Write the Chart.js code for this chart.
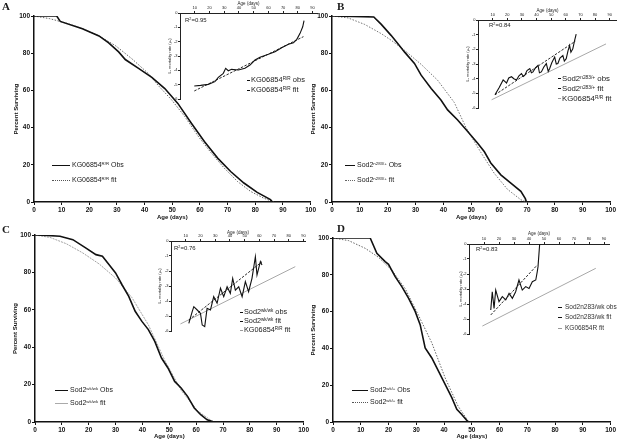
<!DOCTYPE html>
<html>
<head>
<meta charset="utf-8">
<script src="https://cdn.jsdelivr.net/npm/chart.js@4.4.1/dist/chart.umd.min.js"></script>
<style>
  html, body { margin: 0; padding: 0; background: #fff; }
  #fig { position: relative; width: 617px; height: 442px; overflow: hidden; font-family: "Liberation Sans", Arial, sans-serif; color: #1a1a1a; }
  #fig canvas { position: absolute; }
  .t { position: absolute; white-space: nowrap; line-height: 1; }
  .t sup { font-size: 0.62em; vertical-align: 0; position: relative; top: -0.5em; }
  .letter { font-family: "Liberation Serif", "DejaVu Serif", serif; font-weight: bold; font-size: 11px; }
  .sw { display: inline-block; vertical-align: middle; margin-right: 2px; height: 0; }
</style>
</head>
<body>
<div id="fig">
  <canvas id="mainA" width="317" height="222" style="left:0;top:0"></canvas>
  <canvas id="mainB" width="312" height="222" style="left:305px;top:0"></canvas>
  <canvas id="mainC" width="310" height="227" style="left:0;top:215px"></canvas>
  <canvas id="mainD" width="312" height="227" style="left:305px;top:215px"></canvas>
  <canvas id="insetA" width="160" height="102" style="left:160px;top:0"></canvas>
  <canvas id="insetB" width="159" height="104" style="left:458px;top:7px"></canvas>
  <canvas id="insetC" width="157" height="106" style="left:151px;top:228px"></canvas>
  <canvas id="insetD" width="163" height="106" style="left:449px;top:231px"></canvas>

  <div class="t letter" style="left:2px;top:1px">A</div>
  <div class="t letter" style="left:337px;top:1px">B</div>
  <div class="t letter" style="left:2px;top:224px">C</div>
  <div class="t letter" style="left:337px;top:223px">D</div>

  <!-- main legends -->
  <div class="t" style="left:52px;top:161px;font-size:7px"><span class="sw" style="width:18px;border-top:1.6px solid #111"></span>KG06854<sup>R/R</sup> Obs</div>
  <div class="t" style="left:52px;top:176px;font-size:7px"><span class="sw" style="width:18px;border-top:1px dotted #555"></span>KG06854<sup>R/R</sup> fit</div>
  <div class="t" style="left:345px;top:161px;font-size:7px"><span class="sw" style="width:10px;border-top:1.6px solid #111"></span>Sod2<sup>n283/+</sup> Obs</div>
  <div class="t" style="left:345px;top:176px;font-size:7px"><span class="sw" style="width:10px;border-top:1px dotted #666"></span>Sod2<sup>n283/+</sup> fit</div>
  <div class="t" style="left:55px;top:386px;font-size:7px"><span class="sw" style="width:13px;border-top:1.6px solid #111"></span>Sod2<sup>wk/wk</sup> Obs</div>
  <div class="t" style="left:55px;top:399px;font-size:7px"><span class="sw" style="width:13px;border-top:1px solid #aaa"></span>Sod2<sup>wk/wk</sup> fit</div>
  <div class="t" style="left:352px;top:386px;font-size:7px"><span class="sw" style="width:16px;border-top:1.6px solid #111"></span>Sod2<sup>wk/+</sup> Obs</div>
  <div class="t" style="left:352px;top:398px;font-size:7px"><span class="sw" style="width:16px;border-top:1px dotted #555"></span>Sod2<sup>wk/+</sup> fit</div>

  <!-- inset labels -->
  <div class="t" style="left:185px;top:17px;font-size:6px">R<sup>2</sup>=0.95</div>
  <div class="t" style="left:489px;top:22px;font-size:6px">R<sup>2</sup>=0.84</div>
  <div class="t" style="left:174px;top:245px;font-size:6px">R<sup>2</sup>=0.76</div>
  <div class="t" style="left:476px;top:246px;font-size:6px">R<sup>2</sup>=0.83</div>

  <div class="t" style="left:247px;top:76px;font-size:7.5px"><span class="sw" style="width:3px;border-top:1px solid #111;margin-right:1px"></span>KG06854<sup>R/R</sup> obs</div>
  <div class="t" style="left:247px;top:86px;font-size:7.5px"><span class="sw" style="width:3px;border-top:1px dashed #111;margin-right:1px"></span>KG06854<sup>R/R</sup> fit</div>

  <div class="t" style="left:558px;top:75px;font-size:7.8px"><span class="sw" style="width:3px;border-top:1px solid #111;margin-right:1px"></span>Sod2<sup>n283/+</sup> obs</div>
  <div class="t" style="left:558px;top:85px;font-size:7.8px"><span class="sw" style="width:3px;border-top:1px dashed #111;margin-right:1px"></span>Sod2<sup>n283/+</sup> fit</div>
  <div class="t" style="left:558px;top:95px;font-size:7.8px"><span class="sw" style="width:3px;border-top:1px solid #999;margin-right:1px"></span>KG06854<sup>R/R</sup> fit</div>

  <div class="t" style="left:240px;top:308px;font-size:7.3px"><span class="sw" style="width:3px;border-top:1px solid #111;margin-right:1px"></span>Sod2<sup>wk/wk</sup> obs</div>
  <div class="t" style="left:240px;top:317px;font-size:7.3px"><span class="sw" style="width:3px;border-top:1px dashed #111;margin-right:1px"></span>Sod2<sup>wk/wk</sup> fit</div>
  <div class="t" style="left:240px;top:326px;font-size:7.3px"><span class="sw" style="width:3px;border-top:1px solid #999;margin-right:1px"></span>KG06854<sup>R/R</sup> fit</div>

  <div class="t" style="left:558px;top:304px;font-size:6.5px;color:#333"><span class="sw" style="width:4px;border-top:1.6px solid #111;margin-right:3px"></span>Sod2n283/wk obs</div>
  <div class="t" style="left:558px;top:314px;font-size:6.5px;color:#333"><span class="sw" style="width:4px;border-top:1px dashed #111;margin-right:3px"></span>Sod2n283/wk fit</div>
  <div class="t" style="left:558px;top:325px;font-size:6.5px;color:#333"><span class="sw" style="width:4px;border-top:1px solid #999;margin-right:3px"></span>KG06854R fit</div>
</div>

<script>
// tick labels
const mainAgeTicks = [0, 10, 20, 30, 40, 50, 60, 70, 80, 90, 100];
const mainPctTicks = [0, 20, 40, 60, 80, 100];
const insetAgeTicks = [10, 20, 30, 40, 50, 60, 70, 80, 90];
const insetRateTicks = [0, -1, -2, -3, -4, -5, -6];

// A: KG06854 R/R survival
const aObsAge = [0, 8.2, 9.5, 17.5, 23.5, 27, 30.6, 33, 37.8, 42.6, 47.3, 52, 56.9, 61.6, 66.4, 71.1, 75.9, 80.7, 85.5, 86.2];
const aObsPct = [100, 100, 97.1, 93.2, 89.3, 85.5, 80.7, 76.6, 71.8, 67, 61, 53, 42.3, 32.5, 23.6, 16.4, 10.2, 5.2, 1.25, 0];
const aFitAge = [0, 5.6, 11.6, 17.5, 23.5, 29.5, 35.4, 41.4, 45, 49.7, 54.5, 59.3, 64, 68.8, 73.6, 78.3, 83, 86.7];
const aFitPct = [100, 98.6, 96.2, 93.2, 89.3, 84, 77, 69, 62.5, 55, 46, 35.5, 26.5, 18.2, 11, 5.7, 2.1, 0];

// B: Sod2 n283/+ survival
const bObsAge = [0, 15, 17.7, 21.2, 23.6, 26, 29.6, 32, 35.6, 39.1, 41.5, 45.1, 48.7, 52.3, 54.7, 57, 60.6, 64.2, 67.8, 69.4, 69.8];
const bObsPct = [100, 99.5, 95.5, 89.6, 85.2, 80.7, 74.5, 68.2, 61, 54.8, 49.5, 44.1, 37.9, 31.6, 27, 21, 14.6, 10.2, 5.7, 1.8, 0];
const bFitAge = [0, 5.7, 11.7, 17.7, 21.2, 26, 32, 37.9, 43.9, 48.1, 53.5, 58.2, 63, 67.8, 69.9];
const bFitPct = [100, 99, 95.5, 90.5, 87, 81.6, 74, 65.5, 53.5, 40, 26.5, 15.5, 6.8, 1.2, 0];

// C: Sod2 wk/wk survival
const cObsAge = [0, 4.4, 9.3, 14.1, 19, 22.7, 25.1, 27.6, 30, 32.4, 34.9, 37.3, 39.8, 42.2, 44.6, 47.1, 49.5, 52, 54.4, 56.8, 59.3, 61.7, 64.1, 66.6];
const cObsPct = [100, 99.8, 99.3, 97.5, 93, 89.5, 88.6, 84.1, 79.7, 73.4, 67.2, 59.2, 53.8, 49.4, 43.1, 34.2, 28.9, 21.7, 18.2, 13.7, 7.5, 3.9, 1.2, 0];
const cFitAge = [0, 5.6, 11.7, 17.8, 23.9, 30, 36.1, 42.2, 48.3, 54.4, 60.5, 65.4, 66.6];
const cFitPct = [100, 98.7, 95.3, 90.4, 84.5, 77, 66.5, 52, 33, 17, 6, 1, 0];

// D: Sod2 wk/+ survival
const dObsAge = [0, 13.4, 15.8, 18.8, 20, 22.4, 24.8, 27.2, 29.6, 31.4, 33.2, 35.6, 38, 40.4, 42.8, 44.6, 46.3, 48.7];
const dObsPct = [100, 100, 91.7, 87.2, 85.7, 79, 73.6, 67.3, 60.1, 52.9, 40.3, 34.8, 27.6, 20.4, 13.2, 6.9, 4.2, 0];
const dFitAge = [0, 5.6, 11.6, 16.4, 21.2, 26, 30.8, 35.6, 40.4, 45.1, 48.7, 49];
const dFitPct = [100, 98.6, 94.4, 89.5, 82.5, 72.5, 58, 43, 24, 8.5, 0.5, 0];

// insets: ln mortality rate
const aRateObsAge = [9.7, 14, 19.2, 23.7, 26, 29.4, 31, 32.8, 35, 39.6, 44.1, 47.5, 50.9, 54.3, 60, 64.5, 69, 73.6, 77, 79.3, 81.5, 83.3, 84.2];
const aRateObs = [-5.09, -5.05, -4.98, -4.79, -4.49, -4.21, -3.86, -4.03, -3.93, -3.98, -3.86, -3.63, -3.28, -3.09, -2.88, -2.7, -2.42, -2.18, -2.07, -1.84, -1.42, -0.96, -0.54];
const aRateFitAge = [9.7, 83.8];
const aRateFit = [-5.44, -1.65];

const bRateObsAge = [11.6, 14.5, 17.2, 18.5, 19.5, 21, 22.9, 24.5, 26.3, 28, 29.7, 31, 32, 33.5, 35.4, 36.5, 37.6, 39, 41, 42, 43.3, 45, 46.7, 48, 49, 50.5, 52.4, 53.5, 54.6, 56, 58, 59, 60.3, 61.5, 62.6, 63.5, 64.8, 66, 67.1];
const bRateObs = [-5.1, -4.6, -4.09, -4.2, -4.3, -3.95, -3.87, -4.0, -4.09, -3.8, -3.65, -3.85, -3.76, -3.45, -3.31, -3.6, -3.54, -3.3, -3.09, -3.6, -3.54, -3.2, -2.97, -3.5, -3.31, -2.9, -2.53, -3.0, -2.97, -2.6, -2.42, -2.8, -2.64, -2.1, -1.74, -2.2, -1.97, -1.4, -0.96];
const bRateFitAge = [11.6, 66.5];
const bRateFit = [-5.1, -1.45];
const bKgFitAge = [9.3, 87.5];
const bKgFit = [-5.44, -1.63];

const cRateObsAge = [12.1, 14.4, 15.5, 17.8, 20, 21.2, 22.9, 24.5, 26.8, 29, 31.3, 33.6, 35.8, 38.1, 40.3, 41.9, 43.7, 46, 48.3, 50.5, 52.7, 55, 57.3, 58.4, 60.7, 61.8];
const cRateObs = [-5.49, -4.71, -4.38, -4.6, -4.82, -5.6, -5.71, -4.49, -4.6, -3.71, -4.15, -3.15, -3.71, -3.05, -3.49, -2.49, -3.27, -3.05, -3.71, -2.71, -3.38, -2.49, -1.05, -2.27, -1.38, -1.6];
const cRateFitAge = [12.1, 61.8];
const cRateFit = [-5.27, -1.38];
const cKgFitAge = [6.4, 84.4];
const cKgFit = [-5.53, -1.71];

const dRateObsAge = [14.5, 15.5, 16.7, 17.8, 20, 22.2, 24.5, 26.7, 28.9, 31.1, 33.3, 35.5, 37.8, 40, 42.2, 44.5, 45.5, 46, 47.1];
const dRateObs = [-4.4, -3.18, -4.29, -3.07, -3.84, -3.51, -3.73, -3.29, -3.62, -3.18, -2.4, -3.07, -2.84, -2.96, -2.51, -2.4, -1.84, -1.51, 0];
const dRateFitAge = [14.5, 45.5];
const dRateFit = [-4.73, -1.4];
const dKgFitAge = [8.9, 84.5];
const dKgFit = [-5.47, -1.62];

const pairs = (xs, ys) => xs.map((x, i) => ({ x: x, y: ys[i] }));
const FONT = '"Liberation Sans", Arial, sans-serif';

function survivalChart(id, g, obs, fit, fitColor) {
    return new Chart(document.getElementById(id), {
        type: 'line',
        data: {
            datasets: [
                { data: obs, borderColor: '#111', borderWidth: 1.6, pointRadius: 0, tension: 0 },
                { data: fit, borderColor: fitColor, borderWidth: 0.9, borderDash: g.dash, pointRadius: 0, tension: 0 }
            ]
        },
        options: {
            responsive: false,
            animation: false,
            devicePixelRatio: 1,
            layout: { autoPadding: false, padding: { top: g.top, right: g.right, bottom: 0, left: 0 } },
            plugins: { legend: { display: false }, tooltip: { enabled: false } },
            scales: {
                x: {
                    type: 'linear', min: 0, max: 100,
                    afterBuildTicks: s => { s.ticks = mainAgeTicks.map(v => ({ value: v })); },
                    afterFit: s => { s.height = 20; },
                    grid: { drawOnChartArea: false, color: '#111', tickLength: 3 },
                    border: { color: '#111', width: 1.5 },
                    ticks: { color: '#111', padding: 1, maxRotation: 0, font: { family: FONT, size: 6.5, weight: 'bold' } },
                    title: { display: true, text: 'Age (days)', color: '#111', padding: { top: 0, bottom: g.xtp }, font: { family: FONT, size: 6, weight: 'bold' } }
                },
                y: {
                    min: 0, max: 100,
                    afterBuildTicks: s => { s.ticks = mainPctTicks.map(v => ({ value: v })); },
                    afterFit: s => { s.width = g.yw; },
                    grid: { drawOnChartArea: false, color: '#111', tickLength: 3 },
                    border: { color: '#111', width: 1.5 },
                    ticks: { color: '#111', padding: 1, font: { family: FONT, size: 6.5, weight: 'bold' } },
                    title: { display: true, text: 'Percent Surviving', color: '#111', padding: { top: g.ytp, bottom: 0 }, font: { family: FONT, size: 6, weight: 'bold' } }
                }
            }
        }
    });
}

function rateInset(id, g, series) {
    return new Chart(document.getElementById(id), {
        type: 'line',
        data: { datasets: series },
        options: {
            responsive: false,
            animation: false,
            devicePixelRatio: 1,
            layout: { autoPadding: false, padding: { top: 0, right: g.right, bottom: 3, left: 0 } },
            plugins: { legend: { display: false }, tooltip: { enabled: false } },
            scales: {
                x: {
                    type: 'linear', position: 'top', min: 0, max: g.max,
                    afterBuildTicks: s => { s.ticks = insetAgeTicks.map(v => ({ value: v })); },
                    afterFit: s => { s.height = 13; },
                    grid: { drawOnChartArea: false, color: '#222', tickLength: 2 },
                    border: { color: '#222', width: 1 },
                    ticks: { color: '#222', padding: 0.5, maxRotation: 0, font: { family: FONT, size: 4 } },
                    title: { display: true, text: 'Age (days)', color: '#222', padding: { top: g.xtp, bottom: 0 }, font: { family: FONT, size: 4.5 } }
                },
                y: {
                    min: -6, max: 0,
                    afterBuildTicks: s => { s.ticks = insetRateTicks.map(v => ({ value: v })); },
                    afterFit: s => { s.width = 20; },
                    grid: { drawOnChartArea: false, color: '#222', tickLength: 2 },
                    border: { color: '#222', width: 1 },
                    ticks: { color: '#222', padding: 0.5, font: { family: FONT, size: 4 } },
                    title: { display: true, text: 'Lₓ mortality rate (μₓ)', color: '#222', padding: { top: g.ytp, bottom: 0 }, font: { family: FONT, size: 4 } }
                }
            }
        }
    });
}

const obsLine = d => ({ data: d, borderColor: '#111', borderWidth: 1.1, pointRadius: 0, tension: 0 });
const fitLine = d => ({ data: d, borderColor: '#111', borderWidth: 0.9, borderDash: [2.5, 1.5], pointRadius: 0, tension: 0 });
const kgLine = d => ({ data: d, borderColor: '#a8a8a8', borderWidth: 1, pointRadius: 0, tension: 0 });

survivalChart('mainA', { top: 16, right: 3, yw: 34, ytp: 13, xtp: 1, dash: [1.5, 1.5] }, pairs(aObsAge, aObsPct), pairs(aFitAge, aFitPct), '#555');
survivalChart('mainB', { top: 16, right: 1, yw: 27, ytp: 4.4, xtp: 1, dash: [1.5, 1.5] }, pairs(bObsAge, bObsPct), pairs(bFitAge, bFitPct), '#666');
survivalChart('mainC', { top: 20, right: 3, yw: 35, ytp: 11.4, xtp: 2, dash: [2, 1] }, pairs(cObsAge, cObsPct), pairs(cFitAge, cFitPct), '#999');
survivalChart('mainD', { top: 23, right: 6, yw: 28, ytp: 4.4, xtp: 2, dash: [1.5, 1.5] }, pairs(dObsAge, dObsPct), pairs(dFitAge, dFitPct), '#555');

rateInset('insetA', { right: 3, max: 93, xtp: 1.3, ytp: 7.3 }, [obsLine(pairs(aRateObsAge, aRateObs)), fitLine(pairs(aRateFitAge, aRateFit))]);
rateInset('insetB', { right: 0, max: 95, xtp: 1.3, ytp: 7.3 }, [obsLine(pairs(bRateObsAge, bRateObs)), fitLine(pairs(bRateFitAge, bRateFit)), kgLine(pairs(bKgFitAge, bKgFit))]);
rateInset('insetC', { right: 3, max: 91, xtp: 2.3, ytp: 6.5 }, [obsLine(pairs(cRateObsAge, cRateObs)), fitLine(pairs(cRateFitAge, cRateFit)), kgLine(pairs(cKgFitAge, cKgFit))]);
rateInset('insetD', { right: 3, max: 93.3, xtp: 0, ytp: 9 }, [obsLine(pairs(dRateObsAge, dRateObs)), fitLine(pairs(dRateFitAge, dRateFit)), kgLine(pairs(dKgFitAge, dKgFit))]);
</script>
</body>
</html>
